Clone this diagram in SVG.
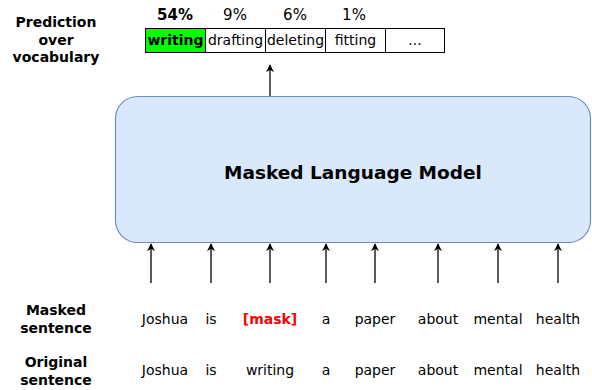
<svg xmlns="http://www.w3.org/2000/svg" width="592" height="390" viewBox="0 0 592 390">
<defs>
<style>
text{font-family:"DejaVu Sans","Verdana",sans-serif;font-size:14px;fill:#000;text-anchor:middle;dominant-baseline:central}
.b{font-weight:bold}
.pct{font-size:15px}
.cell{fill:#fff;stroke:#000;stroke-width:1}
.arr{stroke:#000;stroke-width:1.3;fill:none;marker-end:url(#ah)}
</style>
<marker id="ah" viewBox="0 0 10 10" refX="9" refY="5" markerWidth="8" markerHeight="8" markerUnits="userSpaceOnUse" orient="auto">
<path d="M0,0 L10,5 L0,10 L3,5 Z" fill="#000"/>
</marker>
</defs>
<rect width="592" height="390" fill="#fff"/>
<g id="label-prediction">
<text class="b" x="56" y="22">Prediction</text>
<text class="b" x="56" y="40">over</text>
<text class="b" x="56" y="57">vocabulary</text>
</g>
<g id="prediction">
<text class="b pct" x="175" y="15">54%</text>
<text class="pct" x="235" y="15">9%</text>
<text class="pct" x="295" y="15">6%</text>
<text class="pct" x="354" y="15">1%</text>
<rect class="cell" x="145.5" y="28.5" width="60" height="24" style="fill:#00ff00"/>
<rect class="cell" x="205.5" y="28.5" width="60" height="24"/>
<rect class="cell" x="265.5" y="28.5" width="60" height="24"/>
<rect class="cell" x="325.5" y="28.5" width="60" height="24"/>
<rect class="cell" x="385.5" y="28.5" width="59" height="24"/>
<text class="b" x="175.5" y="40">writing</text>
<text x="235.5" y="40">drafting</text>
<text x="295.5" y="40">deleting</text>
<text x="355.5" y="40">fitting</text>
<text x="415" y="40">...</text>
</g>
<g id="mlm">
<rect x="115.5" y="96.5" width="475" height="146" rx="22" ry="22" fill="#dae8fc" stroke="#6c8ebf" stroke-width="1.2"/>
<text class="b" x="353" y="172" style="font-size:18.5px">Masked Language Model</text>
</g>
<g id="connectors">
<line class="arr" x1="270" y1="96" x2="270" y2="65"/>
<line class="arr" x1="151" y1="283" x2="151" y2="244"/>
<line class="arr" x1="211" y1="283" x2="211" y2="244"/>
<line class="arr" x1="270" y1="283" x2="270" y2="244"/>
<line class="arr" x1="326" y1="283" x2="326" y2="244"/>
<line class="arr" x1="375" y1="283" x2="375" y2="244"/>
<line class="arr" x1="438" y1="283" x2="438" y2="244"/>
<line class="arr" x1="498" y1="283" x2="498" y2="244"/>
<line class="arr" x1="558" y1="283" x2="558" y2="244"/>
</g>
<g id="masked-sentence">
<text class="b" x="56" y="310">Masked</text>
<text class="b" x="56" y="328">sentence</text>
<text x="165" y="319">Joshua</text>
<text x="211" y="319">is</text>
<text class="b" x="270" y="319" style="fill:#ff0000">[mask]</text>
<text x="326" y="319">a</text>
<text x="375" y="319">paper</text>
<text x="438" y="319">about</text>
<text x="498" y="319">mental</text>
<text x="558" y="319">health</text>
</g>
<g id="original-sentence">
<text class="b" x="56" y="362">Original</text>
<text class="b" x="56" y="380">sentence</text>
<text x="165" y="370">Joshua</text>
<text x="211" y="370">is</text>
<text x="270" y="370">writing</text>
<text x="326" y="370">a</text>
<text x="375" y="370">paper</text>
<text x="438" y="370">about</text>
<text x="498" y="370">mental</text>
<text x="558" y="370">health</text>
</g>
</svg>
